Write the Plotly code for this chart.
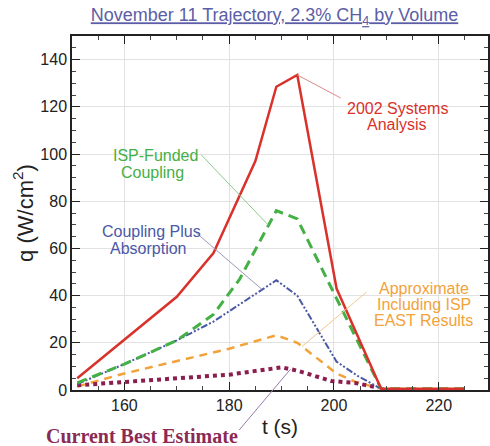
import numpy as np
import plotly.graph_objects as go

# ---- data ----
red_t = [151, 170, 177, 185, 189, 193, 200.5, 209, 225]
red_q = [5, 39.5, 58, 97, 128.5, 133.5, 43, 0.5, 0.5]
green_t = [151, 160, 170, 177, 182, 189, 193, 209, 225]
green_q = [3, 11, 21, 32, 47, 76, 72.5, 0.5, 0.5]
blue_t = [151, 160, 170, 177, 189, 193, 200.5, 204.5, 209]
blue_q = [2.5, 11, 21, 29, 46.5, 40, 12, 6, 0.5]
orange_t = [151, 160, 180, 189, 193, 200.5, 204, 208.5]
orange_q = [1.5, 7, 17.5, 23.2, 20, 7, 3.5, 0.8]
purple_t = [151, 160, 170, 180, 190, 193, 199.5, 204, 208.5]
purple_q = [2, 3.5, 5, 6.5, 9.6, 8.2, 3.8, 3, 1]

x_ticks = [160, 180, 200, 220]
y_ticks = [0, 20, 40, 60, 80, 100, 120, 140]

RED = "#d8322b"
GREEN = "#44b046"
BLUE = "#4a58a6"
ORANGE = "#f3a23a"
PURPLE = "#8b1e4f"
TITLE = "#5b5ea6"

W, H = 490, 446
ML, MR, MT, MB = 72, 0, 36, 56
XR = [150, 229.4]
YR = [0, 150]
PW = W - ML - MR
PH = H - MT - MB


def px2paper(px, py):
    return (px - ML) / PW, (H - MB - py) / PH


def data2paper(t, q):
    return (t - XR[0]) / (XR[1] - XR[0]), (q - YR[0]) / (YR[1] - YR[0])


fig = go.Figure()
fig.add_trace(go.Scatter(x=orange_t, y=orange_q, mode="lines",
                         line=dict(color=ORANGE, width=2.5, dash="8px,6px")))
fig.add_trace(go.Scatter(x=purple_t, y=purple_q, mode="lines",
                         line=dict(color=PURPLE, width=4, dash="4px,4px")))
fig.add_trace(go.Scatter(x=blue_t, y=blue_q, mode="lines",
                         line=dict(color=BLUE, width=2, dash="7px,2px,2px,2px,2px,2px")))
fig.add_trace(go.Scatter(x=green_t, y=green_q, mode="lines",
                         line=dict(color=GREEN, width=3, dash="10px,6px")))
fig.add_trace(go.Scatter(x=red_t, y=red_q, mode="lines",
                         line=dict(color=RED, width=2.5)))

# pointer lines: from label (pixel) to a point on the curve (data)
def pointer(label_px, t_arr, q_arr, t_at, color):
    x0, y0 = px2paper(*label_px)
    x1, y1 = data2paper(t_at, float(np.interp(t_at, t_arr, q_arr)))
    fig.add_shape(type="line", xref="paper", yref="paper", x0=x0, y0=y0, x1=x1, y1=y1,
                  line=dict(color=color, width=1))

pointer((342, 98), red_t, red_q, red_t[int(np.argmax(red_q))], "#d98a8a")
pointer((202, 155), green_t, green_q, 187.5, "#8fc98f")
pointer((197, 233), blue_t, blue_q, 186.3, "#9a9ab8")
pointer((368, 292), orange_t, orange_q, 193.9, "#f0c890")
pointer((240, 430), purple_t, purple_q, 191.7, "#9a7aaa")

def label(text, px, py, color, size=16, family="Liberation Sans, Arial, sans-serif"):
    x, y = px2paper(px, py)
    fig.add_annotation(text=text, x=x, y=y, xref="paper", yref="paper",
                       showarrow=False, xanchor="center", yanchor="middle",
                       font=dict(family=family, size=size, color=color))

label("2002 Systems", 399, 108, RED)
label("Analysis", 399, 125, RED)
label("ISP-Funded", 156, 155, GREEN)
label("Coupling", 153, 172, GREEN)
label("Coupling Plus", 152, 231, BLUE)
label("Absorption", 149, 248, BLUE)
label("Approximate", 426, 288, ORANGE)
label("Including ISP", 426, 304, ORANGE)
label("EAST Results", 425, 320, ORANGE)
label("<b>Current Best Estimate</b>", 142, 436, "#8a2a55", size=20,
      family="Liberation Serif, Times New Roman, serif")

axis_common = dict(
    showline=True, linecolor="#222", linewidth=1.5, mirror="ticks",
    ticks="inside", ticklen=8, tickwidth=1.2, tickcolor="#222",
    showgrid=True, gridcolor="#e2e2e2", gridwidth=1, zeroline=False,
    tickfont=dict(family="Liberation Sans, Arial, sans-serif", size=16, color="#222"),
)

fig.update_xaxes(range=XR, tickvals=x_ticks, **axis_common,
                 minor=dict(dtick=5, tick0=150, ticks="inside", ticklen=4, tickcolor="#444", showgrid=False),
                 title=dict(text="t (s)", standoff=6,
                            font=dict(family="Liberation Sans, Arial, sans-serif", size=21, color="#222")))
fig.update_yaxes(range=YR, tickvals=y_ticks, **axis_common,
                 minor=dict(dtick=5, tick0=0, ticks="inside", ticklen=4, tickcolor="#444", showgrid=False),
                 title=dict(text="q (W/cm<sup>2</sup>)", standoff=1,
                            font=dict(family="Liberation Sans, Arial, sans-serif", size=22, color="#222")))

fig.update_layout(
    width=W, height=H,
    margin=dict(l=ML, r=MR, t=MT, b=MB),
    paper_bgcolor="white", plot_bgcolor="white",
    showlegend=False,
    title=dict(text="<u>November 11 Trajectory, 2.3% CH<sub>4</sub> by Volume</u>",
               x=274.5 / W, xanchor="center", y=1 - 15 / H, yanchor="middle",
               font=dict(family="Liberation Sans, Arial, sans-serif", size=18, color=TITLE)),
)

fig.write_html("out.html")
